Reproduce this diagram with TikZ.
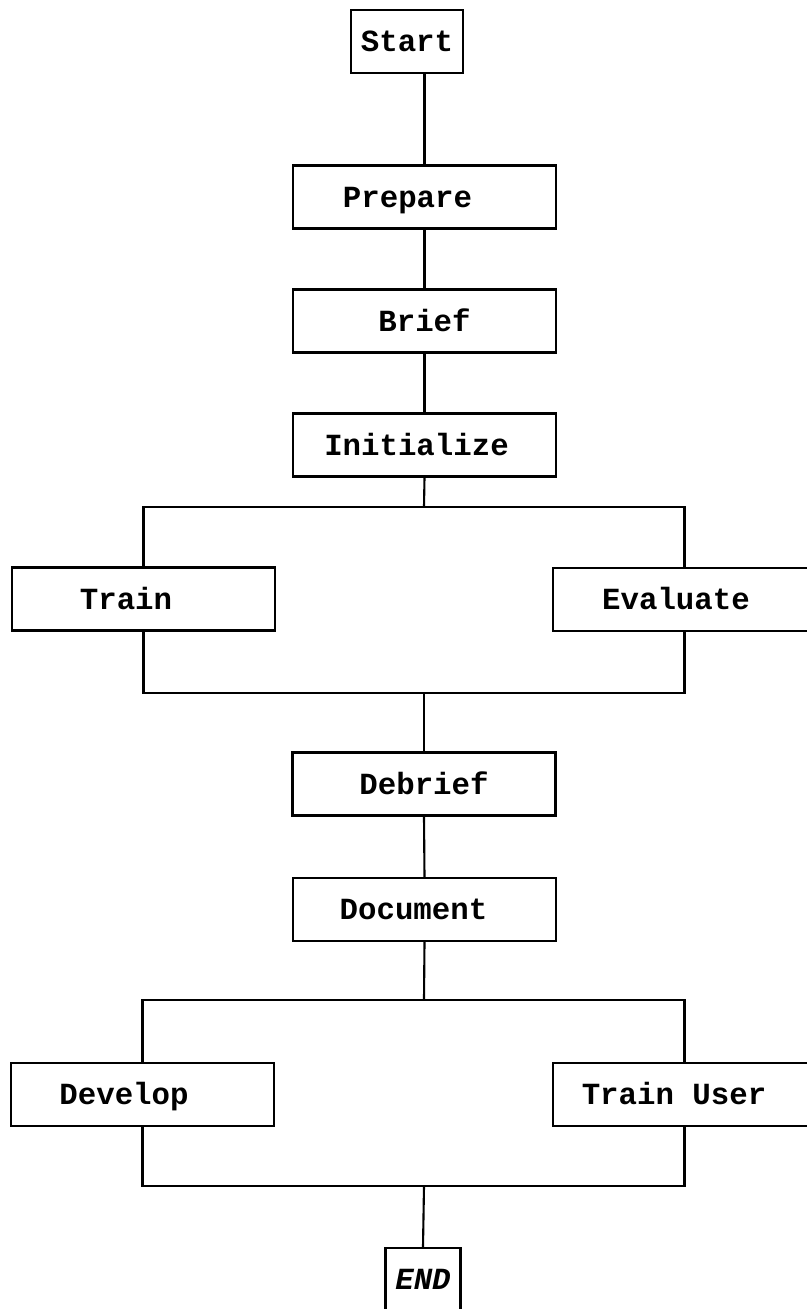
\documentclass[tikz,border=0pt]{standalone}
\usepackage{fontspec}
\setmonofont{Liberation Mono}
\usepackage{tikz}

\tikzset{
  box/.style={shape=rectangle,draw=black,line width=1.2pt,minimum width=5.26cm,minimum height=1.26cm,inner sep=0pt,
    font=\ttfamily\bfseries\fontsize{17.5}{20}\selectfont,text height=13pt,text depth=1.4pt},
  wire/.style={line width=1.2pt}
}

\begin{document}
\begin{tikzpicture}[x=0.02cm,y=-0.02cm]
    \useasboundingbox (0,0) rectangle (806,1309);
    \node[box,minimum width=2.24cm] (start) at (407,41.5) {Start};
    \node[box] (prep) at (424.5,197) {Prepare\hspace{0.68cm}\null};
    \node[box] (brief) at (424.5,321) {Brief};
    \node[box] (init) at (424.5,445) {Initialize\hspace{0.32cm}\null};
    \node[box] (train) at (143.5,599) {Train\hspace{0.7cm}\null};
    \node[box] (eval) at (684.5,599.5) {Evaluate\hspace{0.34cm}\null};
    \node[box] (debrief) at (424,784) {Debrief};
    \node[box] (doc) at (424.5,909.5) {Document\hspace{0.44cm}\null};
    \node[box] (dev) at (142.5,1094.5) {Develop\hspace{0.74cm}\null};
    \node[box] (tuser) at (684.5,1094.5) {Train User\hspace{0.42cm}\null};
    \node[box,minimum width=1.5cm,font=\ttfamily\bfseries\itshape\fontsize{17.5}{20}\selectfont] (end) at (423,1279.5) {END};
    \coordinate (fork1) at (424,507);
    \coordinate (join1) at (424,693);
    \coordinate (fork2) at (424,1000);
    \coordinate (join2) at (424,1186);
    \draw [wire] (prep.north |- start.south) -- (prep.north);
    \draw [wire] (prep.south) -- (brief.north);
    \draw [wire] (brief.south) -- (init.north);
    \draw [wire] (init.south) -- (fork1);
    \draw [wire] (train.north) |- (fork1) -| (eval.north);
    \draw [wire] (train.south) |- (join1) -| (eval.south);
    \draw [wire] (join1) -- (debrief.north);
    \draw [wire] (debrief.south) -- (doc.north);
    \draw [wire] (doc.south) -- (fork2);
    \draw [wire] (dev.north) |- (fork2) -| (tuser.north);
    \draw [wire] (dev.south) |- (join2) -| (tuser.south);
    \draw [wire] (join2) -- (end.north);
\end{tikzpicture}
\end{document}
